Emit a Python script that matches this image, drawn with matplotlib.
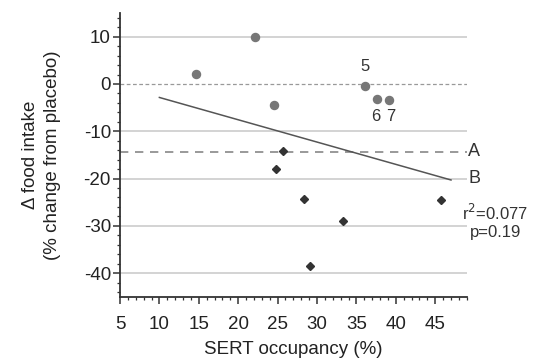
import numpy as np
import matplotlib
matplotlib.use("Agg")
import matplotlib.pyplot as plt
from matplotlib.ticker import MultipleLocator

plt.rcParams['font.family'] = ['Liberation Sans', 'DejaVu Sans']
plt.rcParams['axes.unicode_minus'] = False

# --- data ---
circle_x = [14.7, 22.1, 24.5, 36.05, 37.6, 39.1]
circle_y = [2.1, 10.0, -4.5, -0.5, -3.1, -3.4]
diamond_x = [25.7, 24.8, 28.3, 33.3, 29.1, 45.7]
diamond_y = [-14.25, -17.9, -24.3, -29.05, -38.5, -24.5]
point_labels = ["5", "6", "7"]
level_A = -14.3
level_B = -20.0
fit_range = [10, 47]
x_ticks = [5, 10, 15, 20, 25, 30, 35, 40, 45]
y_ticks = [10, 0, -10, -20, -30, -40]
stats_text = "r$^2$=0.077\np=0.19"

fig = plt.figure(figsize=(5.39, 3.63), dpi=100)
ax = fig.add_axes([0.2226, 0.1826, 0.6434, 0.7814])

xmin, xmax = 5, 49
ymin, ymax = -45, 15
ax.set_xlim(xmin, xmax)
ax.set_ylim(ymin, ymax)

# gridlines
for yv in y_ticks:
    if yv == 0:
        ax.plot([xmin, xmax], [0, 0], color='#999999', lw=0.9, ls=(0, (3, 2)), zorder=1)
    else:
        ax.plot([xmin, xmax], [yv, yv], color='#cccccc', lw=1.2, zorder=1)

# A line
ax.plot([xmin, xmax], [level_A, level_A], color='#888888', lw=1.2, ls=(0, (5, 4)), zorder=1)

# regression line from all points
all_x = np.array(circle_x + diamond_x)
all_y = np.array(circle_y + diamond_y)
slope, intercept = np.polyfit(all_x, all_y, 1)
fx = np.array(fit_range)
ax.plot(fx, slope * fx + intercept, color='#555555', lw=1.1, zorder=2)

# points
ax.plot(circle_x, circle_y, 'o', color='#777777', ms=5.8, mec='#777777', zorder=3, clip_on=False)
ax.plot(diamond_x, diamond_y, 'D', color='#333333', ms=4, mec='#333333', zorder=3, clip_on=False)

# point labels
ax.text(circle_x[3], circle_y[3] + 2.6, point_labels[0], ha='center', va='bottom', fontsize=12, color='#333333')
ax.text(circle_x[4] - 0.2, -5.2, point_labels[1], ha='center', va='top', fontsize=12, color='#333333')
ax.text(circle_x[5] + 0.2, -5.2, point_labels[2], ha='center', va='top', fontsize=12, color='#333333')

# A / B labels
ax.text(xmax + 0.2, level_A, "A", ha='left', va='center', fontsize=13, color='#333333', clip_on=False)
ax.text(xmax + 0.2, level_B, "B", ha='left', va='center', fontsize=13, color='#333333', clip_on=False)
ax.text(xmax + 3.6, -29.0, stats_text, ha='center', va='center', fontsize=12, color='#333333',
        linespacing=1.15, clip_on=False)

# spines
for s in ['top', 'right']:
    ax.spines[s].set_visible(False)
for s in ['left', 'bottom']:
    ax.spines[s].set_color('#333333')
    ax.spines[s].set_linewidth(1.3)

ax.set_xticks(x_ticks)
ax.set_yticks(y_ticks)
ax.xaxis.set_minor_locator(MultipleLocator(1))
ax.yaxis.set_minor_locator(MultipleLocator(2))
ax.tick_params(axis='both', which='major', direction='out', length=5, width=1.1, color='#333333',
               labelsize=13.5, labelcolor='#222222', pad=1.5)
ax.tick_params(axis='both', which='minor', direction='out', length=2.5, width=0.9, color='#333333')
ax.tick_params(axis='x', which='major', pad=9)

ax.set_xlabel("SERT occupancy (%)", fontsize=13.5, color='#222222', labelpad=6)
ax.set_ylabel("\u0394 food intake\n(% change from placebo)", fontsize=13.5, color='#222222',
              linespacing=1.4, labelpad=16)

fig.savefig("out.png", dpi=100)
